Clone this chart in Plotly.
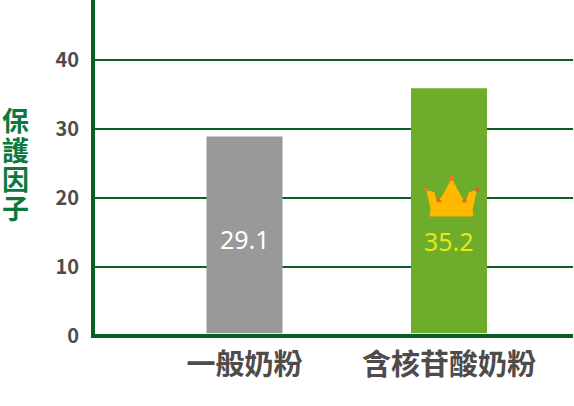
import plotly.graph_objects as go

categories = ["一般奶粉", "含核苷酸奶粉"]
bar_heights = [28.9, 35.9]
value_labels = ["29.1", "35.2"]
y_ticks = [0, 10, 20, 30, 40]
title_chars = ["保", "護", "因", "子"]

BASE = 0.4
GREEN = "#0b5f22"
GREY = "#4f4b4b"
CJK = "Noto Sans CJK TC"
L, R, T, B = 95, 573, 0, 336


def px(x):
    return (x - L) / (R - L)


def py(y):
    return (B - y) / (B - T)


def path(points):
    return "M " + " L ".join(f"{px(x):.4f},{py(y):.4f}" for x, y in points) + " Z"


def zp(zx, zy):
    return 400 + zx / 3, 160 + zy / 3


def dot(cx, cy, r, color):
    x, y = zp(cx, cy)
    return dict(type="circle", xref="paper", yref="paper",
                x0=px(x - r), x1=px(x + r), y0=py(y + r), y1=py(y - r),
                fillcolor=color, line_width=0, layer="above")


crown_body = [zp(*p) for p in [(79, 89), (103, 97), (112, 128), (132, 98), (155, 55), (178, 98),
                                (196, 128), (207, 97), (231, 89), (217, 153), (93, 153)]]
crown_base = [zp(*p) for p in [(90, 153), (219, 153), (219, 169), (90, 169)]]
left_gem = [zp(*p) for p in [(108, 127), (115, 111), (126, 127)]]
right_gem = [zp(*p) for p in [(184, 127), (193, 111), (202, 127)]]

shapes = [
    dict(type="path", xref="paper", yref="paper", path=path(crown_body),
         fillcolor="#ffb900", line_width=0, layer="above"),
    dict(type="path", xref="paper", yref="paper", path=path(crown_base),
         fillcolor="#ffb900", line=dict(color="#f5a800", width=0.5), layer="above"),
    dict(type="path", xref="paper", yref="paper", path=path(left_gem),
         fillcolor="#ee6a1b", line_width=0, layer="above"),
    dict(type="path", xref="paper", yref="paper", path=path(right_gem),
         fillcolor="#ee6a1b", line_width=0, layer="above"),
    dot(155, 55, 2.6, "#ee7a1b"),
    dot(79, 89, 2, "#ee7a1b"),
    dot(231, 89, 2, "#e8562a"),
    dict(type="rect", xref="paper", yref="paper", x0=px(91), x1=px(95), y0=py(338), y1=py(334),
         fillcolor=GREEN, line_width=0, layer="above"),
]

fig = go.Figure(go.Bar(
    x=categories,
    y=[h - BASE for h in bar_heights],
    base=BASE,
    width=76 / 204.5,
    marker=dict(color=["#999999", "#6dad2b"], line_width=0),
    hoverinfo="skip",
))

title_annotations = [
    dict(x=px(15), y=py(120 + 29 * i), xref="paper", yref="paper", text=ch,
         showarrow=False, xanchor="center", yanchor="middle",
         font=dict(family=CJK, size=27, color="#0a7a3c", weight="bold"))
    for i, ch in enumerate(title_chars)
]

fig.update_layout(
    width=574, height=406,
    margin=dict(l=L, r=574 - R, t=T, b=406 - B, pad=0),
    paper_bgcolor="white", plot_bgcolor="white",
    showlegend=False,
    shapes=shapes,
    annotations=[
        dict(x=categories[0], y=14.0, xref="x", yref="y", text=value_labels[0], showarrow=False,
             font=dict(family="Noto Sans", size=25, color="white")),
        dict(x=categories[1], y=13.8, xref="x", yref="y", text=value_labels[1], showarrow=False,
             font=dict(family="Noto Sans", size=25, color="#e6e619")),
    ] + title_annotations,
    xaxis=dict(
        type="category", categoryorder="array", categoryarray=categories,
        range=[-(244.5 - L) / 204.5, (R - 244.5) / 204.5],
        showline=False, showgrid=False, zeroline=False, ticks="",
        ticklabelstandoff=9,
        tickfont=dict(family=CJK, size=29, color=GREY, weight="bold"),
    ),
    yaxis=dict(
        range=[0, (B - T) / 6.9],
        tickmode="array", tickvals=y_ticks, ticktext=[str(v) for v in y_ticks],
        showline=True, linecolor=GREEN, linewidth=4,
        showgrid=True, gridcolor=GREEN, gridwidth=2,
        zeroline=True, zerolinecolor=GREEN, zerolinewidth=4,
        ticks="", ticklabelstandoff=8,
        tickfont=dict(family=CJK, size=20, color=GREY, weight="bold"),
    ),
)

fig.write_html("out.html", config=dict(displayModeBar=False),
               post_script="document.body.style.margin='0';document.documentElement.style.overflow='hidden';")
